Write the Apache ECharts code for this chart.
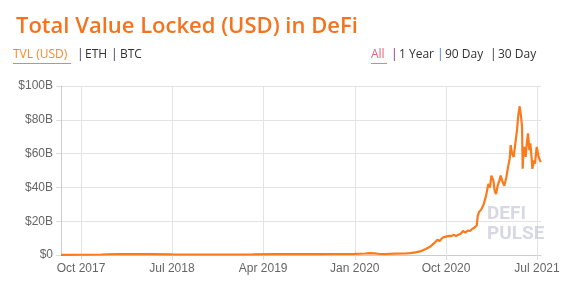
<!DOCTYPE html>
<html>
<head>
<meta charset="utf-8">
<script src="https://cdn.jsdelivr.net/npm/echarts@6/dist/echarts.min.js"></script>
<style>
  html, body { margin: 0; padding: 0; background: #fff; }
  #chart { width: 564px; height: 283px; }
</style>
</head>
<body>
<div id="chart"></div>
<script>
// TVL in billions of USD
var dates = [
  '2017-08-02','2017-10-01','2017-12-01','2018-01-15','2018-03-01','2018-05-01','2018-07-01','2018-09-01',
  '2018-12-01','2019-01-01','2019-03-01','2019-05-01','2019-07-01','2019-09-01','2019-11-01','2020-01-01',
  '2020-02-01','2020-02-15','2020-03-01','2020-03-15','2020-04-01','2020-05-01','2020-06-01','2020-06-15',
  '2020-07-01','2020-07-15','2020-08-01','2020-08-15','2020-08-22','2020-08-29','2020-09-05','2020-09-12',
  '2020-09-19','2020-09-26','2020-10-03','2020-10-10','2020-10-17','2020-10-24','2020-10-31','2020-11-07',
  '2020-11-14','2020-11-21','2020-11-28','2020-12-05','2020-12-12','2020-12-19','2020-12-26','2021-01-01',
  '2021-01-04','2021-01-08','2021-01-15','2021-01-22','2021-01-29','2021-02-05','2021-02-10','2021-02-14',
  '2021-02-20','2021-02-24','2021-02-28','2021-03-05','2021-03-10','2021-03-14','2021-03-20','2021-03-25',
  '2021-03-31','2021-04-05','2021-04-10','2021-04-13','2021-04-17','2021-04-22','2021-04-27','2021-05-02',
  '2021-05-06','2021-05-10','2021-05-12','2021-05-14','2021-05-17','2021-05-19','2021-05-21','2021-05-25',
  '2021-05-28','2021-06-01','2021-06-04','2021-06-08','2021-06-11','2021-06-15','2021-06-17','2021-06-19',
  '2021-06-22','2021-06-25','2021-06-30','2021-07-02','2021-07-06','2021-07-09','2021-07-12'
]
var tvl = [
  0.1, 0.15, 0.3, 0.6, 0.5, 0.5, 0.35, 0.3,
  0.3, 0.3, 0.35, 0.5, 0.6, 0.55, 0.6, 0.7,
  0.9, 1.1, 1.0, 0.6, 0.6, 0.8, 0.9, 1.1,
  1.6, 2.1, 3.5, 5, 6.3, 7.5, 9, 8.3,
  10, 10.6, 11, 11.3, 11.2, 11.8, 11.3, 12,
  12.6, 14.2, 13.2, 14.5, 14.2, 15.5, 16.3, 17.5,
  23, 25.5, 27, 30, 35, 42, 40, 47,
  44, 38, 36, 41, 44, 47, 43, 41,
  46, 52, 57, 65, 60, 58, 66, 74,
  83, 88, 89, 82, 76, 51, 60, 64,
  58, 67, 72, 62, 66, 57, 51, 53,
  56, 54, 64, 62, 58, 57, 55
]
var xTicks = ['2017-10-01','2018-07-01','2019-04-01','2020-01-01','2020-10-01','2021-07-01']
var monthNames = ['Jan','Feb','Mar','Apr','May','Jun','Jul','Aug','Sep','Oct','Nov','Dec']

var chart = echarts.init(document.getElementById('chart'))
var parse = echarts.number.parseDate
var tickValues = xTicks.map(function (d) { return +parse(d) })
var seriesData = dates.map(function (d, i) { return [+parse(d), tvl[i] * 1e9] })

var linkStyle = { fontSize: 12, fontFamily: 'Open Sans', fill: '#333' }
function txt(x, str, color) {
  return { type: 'text', left: x, top: 49, style: Object.assign({}, linkStyle, { text: str, fill: color || '#333' }) }
}
var wmStyle = { fontSize: 19, fontWeight: 'bold', fontFamily: 'Roboto', fill: 'rgba(200,200,218,0.7)' }

var option = {
  animation: false,
  title: {
    text: 'Total Value Locked (USD) in DeFi',
    left: 11, top: 11,
    textStyle: { color: '#f5731f', fontSize: 22, fontWeight: 600, fontFamily: 'Open Sans' }
  },
  graphic: [
    txt(13, 'TVL (USD)', '#f5892f'),
    { type: 'line', shape: { x1: 13, y1: 63.5, x2: 71, y2: 63.5 }, style: { stroke: '#f5892f', lineWidth: 1 } },
    txt(77, '|', '#33335a'), txt(85, 'ETH'), txt(111, '|', '#33335a'), txt(120, 'BTC'),
    txt(371, 'All', '#e8607a'),
    { type: 'line', shape: { x1: 371, y1: 63.5, x2: 387, y2: 63.5 }, style: { stroke: '#f5892f', lineWidth: 1 } },
    txt(391, '|', '#8a2a8a'), txt(399, '1 Year'), txt(437, '|', '#3a7bd5'), txt(445, '90 Day'),
    txt(490, '|'), txt(498, '30 Day'),
    { type: 'text', left: 487, top: 205, z: 5, style: Object.assign({ text: 'DEFI' }, wmStyle) },
    { type: 'text', left: 487, top: 225, z: 5, style: Object.assign({ text: 'PULSE' }, wmStyle) }
  ],
  grid: { left: 61, right: 23, top: 86, bottom: 28, containLabel: false },
  xAxis: {
    type: 'value',
    min: +parse('2017-08-02'),
    max: +parse('2021-07-13'),
    axisLine: { lineStyle: { color: '#ccc' } },
    axisTick: { show: true, length: 5, lineStyle: { color: '#ddd' }, customValues: tickValues },
    splitLine: { show: true, lineStyle: { color: '#e3e3e3' } },
    axisLabel: {
      customValues: tickValues,
      color: '#666', fontSize: 12, fontFamily: 'Liberation Sans', margin: 8,
      formatter: function (v) {
        var d = new Date(v)
        return monthNames[d.getMonth()] + ' ' + d.getFullYear()
      }
    }
  },
  yAxis: {
    type: 'value',
    min: 0, max: 100e9, interval: 20e9,
    axisLine: { show: true, lineStyle: { color: '#ccc' } },
    axisTick: { show: true, length: 5, lineStyle: { color: '#ddd' } },
    splitLine: { lineStyle: { color: '#e3e3e3' } },
    axisLabel: {
      color: '#666', fontSize: 12, fontFamily: 'Liberation Sans', margin: 8,
      formatter: function (v) { return v === 0 ? '$0' : '$' + (v / 1e9) + 'B' }
    }
  },
  series: [{
    type: 'line',
    data: seriesData,
    showSymbol: false,
    z: 3,
    lineStyle: { color: '#fb7a1c', width: 2.2 }
  }]
}
chart.setOption(option)
</script>
</body>
</html>
